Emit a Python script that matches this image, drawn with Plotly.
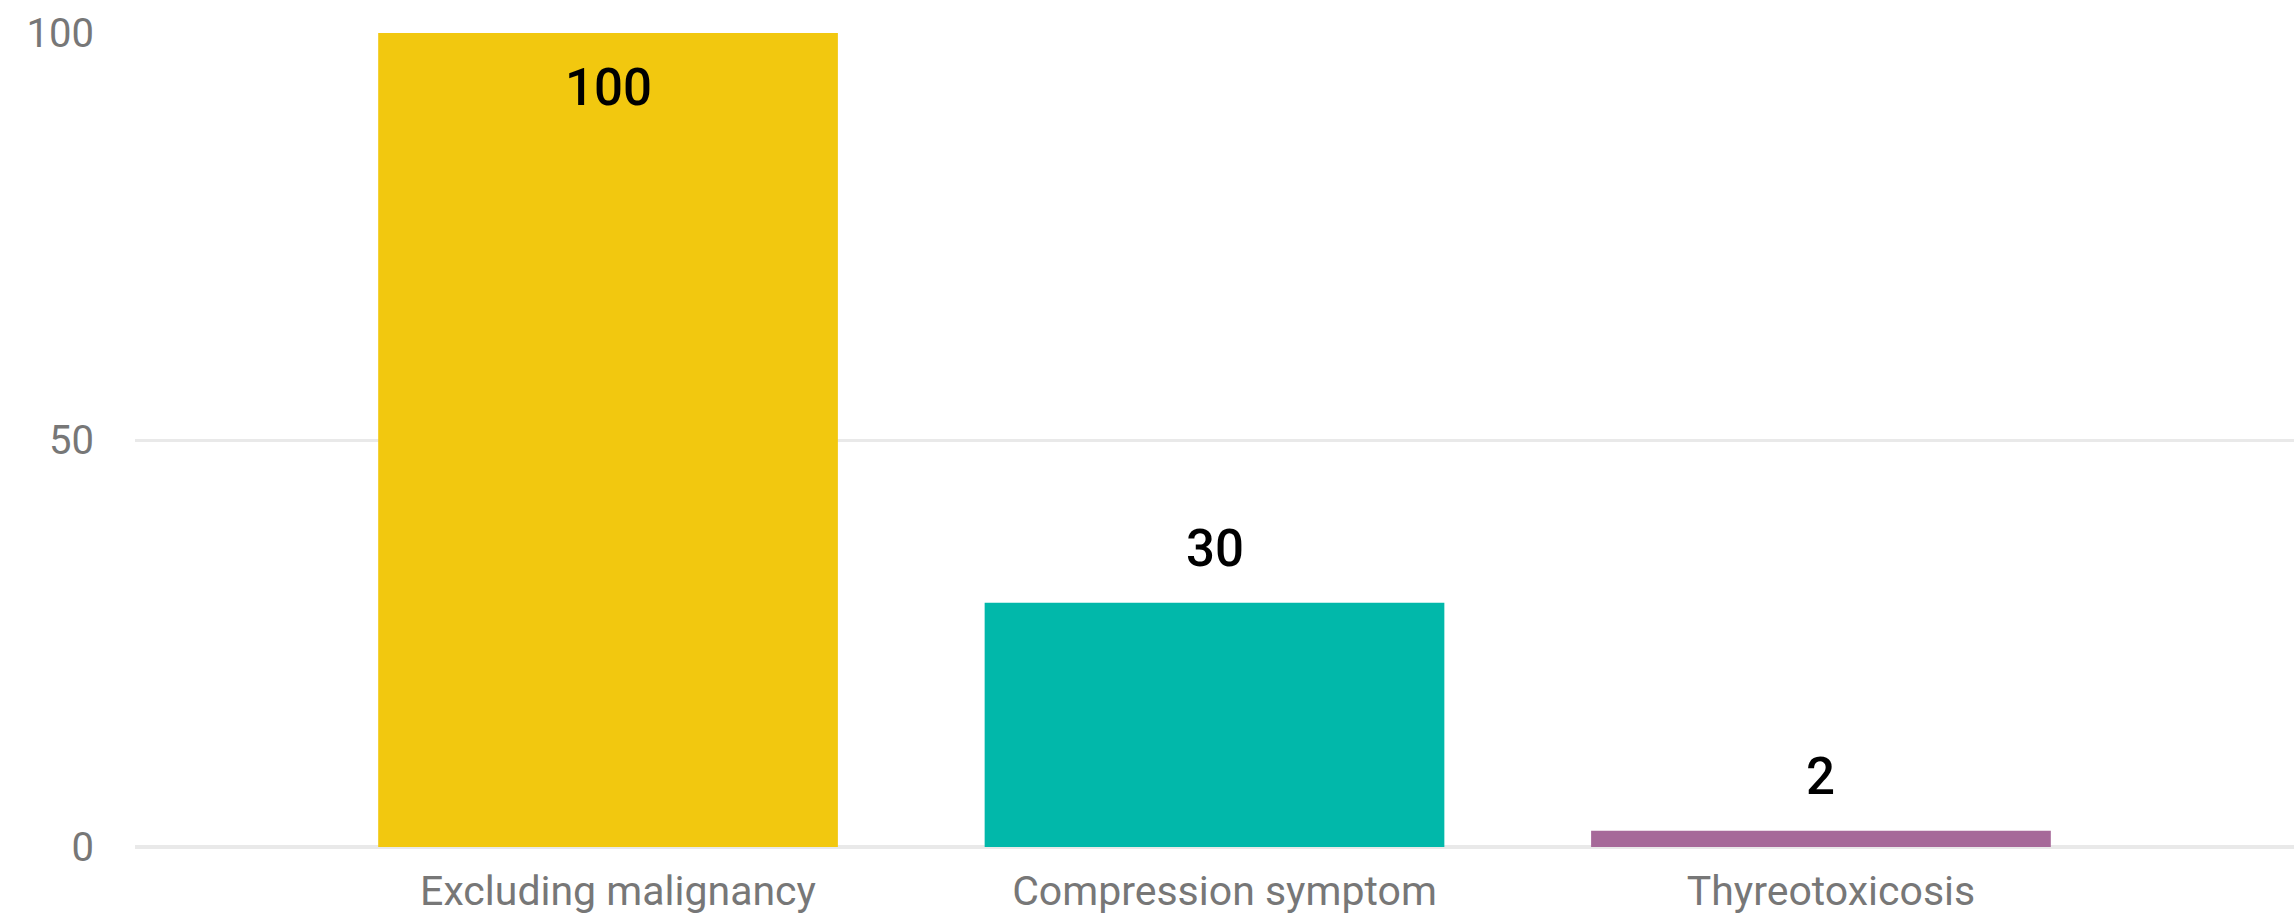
import plotly.graph_objects as go

categories = ["Excluding malignancy", "Compression symptom", "Thyreotoxicosis"]
values = [100, 30, 2]
colors = ["#F2C80F", "#01B8AA", "#A66999"]
y_tickvals = [0, 50, 100]

FONT = "Roboto, Open Sans, sans-serif"

fig = go.Figure()
fig.add_trace(go.Bar(
    x=categories, y=values, marker=dict(color=colors, line=dict(width=0)),
    hoverinfo="skip", showlegend=False,
))

vmax = max(values)
for c, v in zip(categories, values):
    inside = v >= 0.9 * vmax
    fig.add_annotation(
        x=c, y=v, text=str(v), showarrow=False,
        yanchor="top" if inside else "bottom",
        yshift=-23 if inside else 23,
        font=dict(family=FONT, size=51, color="#000000", weight=500),
    )

fig.update_layout(
    width=2294, height=921,
    margin=dict(l=135, r=0, t=33, b=74, autoexpand=False),
    plot_bgcolor="white", paper_bgcolor="white",
    bargap=0.242,
    font=dict(family=FONT, color="#777777"),
)
fig.update_xaxes(
    range=[-0.78, 2.78], showgrid=False, showline=False, zeroline=False,
    tickfont=dict(family=FONT, size=41, color="#777777"),
    ticks="", ticklabelstandoff=16, ticklabelshift=10, automargin=False,
)
fig.update_yaxes(
    range=[0, 100], tickvals=y_tickvals, showgrid=True,
    gridcolor="#E9E9E9", gridwidth=3, zeroline=True, zerolinecolor="#E9E9E9",
    zerolinewidth=3.5, showline=False,
    tickfont=dict(family=FONT, size=40, color="#777777"),
    ticks="", ticklabelstandoff=40, automargin=False,
)

fig.write_html(
    "out.html",
    config={"displayModeBar": False},
    post_script="document.body.style.margin='0';document.body.style.overflow='hidden';",
)
